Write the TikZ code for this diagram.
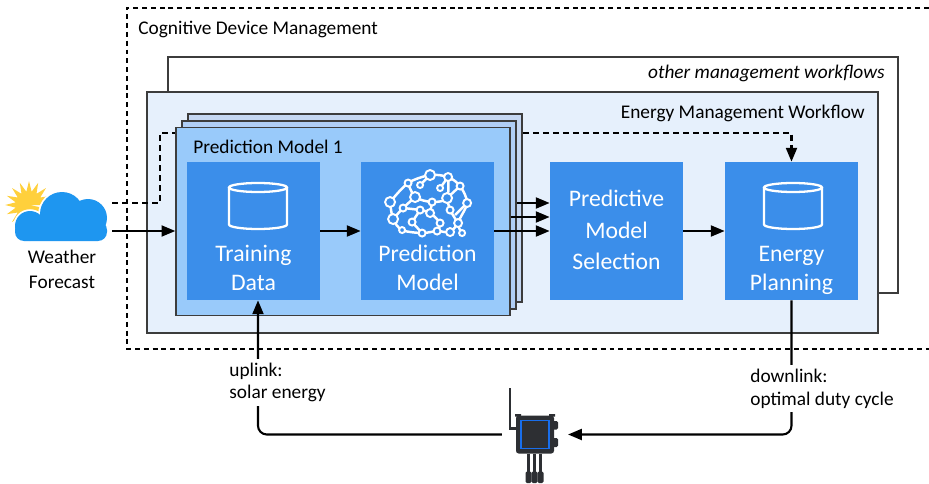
\documentclass[tikz,border=0pt]{standalone}
\usepackage{fontspec}
\setmainfont{Carlito}
\usepackage{xcolor}
\definecolor{boxBlue}{RGB}{59,142,234}
\definecolor{stackBlue}{RGB}{153,202,250}
\definecolor{stackMid}{RGB}{176,206,245}
\definecolor{stackBack}{RGB}{197,215,242}
\definecolor{wfBlue}{RGB}{230,240,252}
\definecolor{frameGray}{RGB}{60,60,60}
\definecolor{cloudBlue}{RGB}{30,150,240}
\definecolor{sunYellow}{RGB}{255,208,60}
\definecolor{devDark}{RGB}{45,47,51}
\definecolor{devBlue}{RGB}{25,110,235}
\usepackage{tikz}
\usetikzlibrary{arrows.meta}
\pgfdeclarelayer{bg}
\pgfdeclarelayer{fb}
\pgfsetlayers{bg,fb,main}

\begin{document}
\begin{tikzpicture}[
  frame/.style={rectangle, draw=frameGray, line width=0.8pt, inner sep=0},
  stackbox/.style={rectangle, draw=frameGray, line width=0.8pt, fill=stackBlue,
                   minimum width=6.68cm, minimum height=3.76cm},
  block/.style={rectangle, fill=boxBlue, minimum width=2.66cm, minimum height=2.76cm},
  blocktxt/.style={align=center, text=white, inner sep=0,
                   font=\fontsize{13.5}{16.5}\selectfont},
  title/.style={inner sep=0, font=\fontsize{11}{13}\selectfont},
  lnk/.style={fill=white, align=left, inner sep=2pt, font=\fontsize{11}{13}\selectfont},
  arr/.style={-{Triangle[length=7.8pt,width=6.2pt]}, line width=1.2pt},
  dasharr/.style={arr, dash pattern=on 3.4pt off 2.3pt},
  dbline/.style={draw=white, line width=1.3pt},
  dev/.style={rectangle, fill=devDark, rounded corners=1.5pt, minimum size=0.76cm,
              outer xsep=8pt}]

  \useasboundingbox (0,0) rectangle (18.58,9.66);

  % ── Containers ────────────────────────────────────────────────────
  \begin{pgfonlayer}{bg}
    \draw[line width=0.6pt, dash pattern=on 2.8pt off 2.2pt]
      (18.58,9.50) -- (2.54,9.50) -- (2.54,2.68) -- (18.58,2.68);
    \node[frame, fill=white, minimum width=14.60cm, minimum height=4.72cm] (others) at (10.66,6.16) {};
    \node[frame, fill=wfBlue, minimum width=14.62cm, minimum height=4.82cm] (energy) at (10.25,5.41) {};
  \end{pgfonlayer}
  \node[title, anchor=west] (cdmlbl) at (2.76,9.08) {Cognitive Device Management};
  \node[title, anchor=east] (otherlbl) at (17.70,8.20) {\itshape other management workflows};
  \node[title, anchor=east] (emwlbl) at (17.30,7.40) {Energy Management Workflow};

  % ── Stack of prediction models ────────────────────────────────────
  \node[stackbox, fill=stackBack] (stack3) at (7.10,5.50) {};
  \node[stackbox, fill=stackMid] (stack2) at (6.98,5.36) {};
  \node[stackbox] (stack) at (6.86,5.23) {};
  \node[title, anchor=west] (pm1) at (3.86,6.72) {Prediction Model 1};

  % ── Blocks ────────────────────────────────────────────────────────
  \node[block] (train) at (5.07,5.04) {};
  \node[block] (pred) at (8.55,5.04) {};
  \node[block] (sel) at (12.33,5.04) {};
  \node[block] (plan) at (15.83,5.04) {};
  \node[blocktxt] (traintxt) at (5.07,4.31) {Training\\Data};
  \node[blocktxt] (predtxt) at (8.55,4.31) {Prediction\\Model};
  \node[blocktxt, font=\fontsize{13.5}{18}\selectfont] (seltxt) at (12.33,5.06) {Predictive\\Model\\Selection};
  \node[blocktxt] (plantxt) at (15.83,4.25) {Energy\\Planning};

  % database icons
  \draw[dbline] (5.16,5.91) ellipse [x radius=0.58, y radius=0.09];
  \draw[dbline] (4.58,5.91) -- (4.58,5.17) arc[start angle=180, end angle=360, x radius=0.58, y radius=0.09] -- (5.74,5.91);
  \draw[dbline] (15.86,5.91) ellipse [x radius=0.58, y radius=0.09];
  \draw[dbline] (15.28,5.91) -- (15.28,5.17) arc[start angle=180, end angle=360, x radius=0.58, y radius=0.09] -- (16.44,5.91);

  % brain icon (pixel grid)
  \begin{scope}[shift={(0,9.66)}, x=0.02cm, y=-0.02cm, white, line width=1.4pt]
    \draw plot[smooth] coordinates {(390,202) (408,183) (430,175) (448,177) (460,186) (467,203) (458,223) (462,233)};
    \draw plot[smooth] coordinates {(390,202) (393,219) (402,230) (422,233) (437,231) (450,232) (458,223)};
    \draw plot[smooth] coordinates {(408,183) (415,197) (432,202) (447,198) (448,177)};
    \draw plot[smooth] coordinates {(403,208) (420,210) (430,213) (440,223) (437,231)};
    \draw plot[smooth] coordinates {(393,219) (403,208) (415,197)};
    \draw plot[smooth] coordinates {(447,198) (450,210) (458,223)};
    \draw plot[smooth] coordinates {(420,185) (430,175)};
    \draw (412,222) -- (420,210) (430,213) -- (432,202) (412,222) -- (422,233) (460,186) -- (447,198)
      (440,188) -- (448,177) (455,215) -- (467,203);
    \foreach \bx/\by/\br in {430/175/5, 390/202/5, 415/197/5, 447/198/5, 393/219/5,
        408/183/3.5, 448/177/4, 460/186/3.5, 467/203/4, 432/202/3.5, 403/208/3.5, 420/210/3.5,
        430/213/4, 450/210/3.5, 412/222/3.5, 440/223/3.5, 458/223/4, 402/230/3, 422/233/3.5,
        437/231/3.5, 450/232/4, 462/233/3, 420/185/3, 440/188/3}
      \draw[fill=boxBlue, line width=1.1pt] (\bx,\by) circle[radius=\br];
  \end{scope}

  % ── Weather forecast ──────────────────────────────────────────────
  \fill[sunYellow] (0.58,5.56) \foreach \a in {0,22.5,...,337.5} { -- +(\a:0.48) -- +(\a+11.25:0.27) } -- cycle;
  \draw[white, line width=2pt] (0.60,5.14) circle[radius=0.30] (1.24,5.38) circle[radius=0.44]
    (1.76,5.30) circle[radius=0.38] [rounded corners=0.18cm] (0.30,4.84) rectangle (2.14,5.24);
  \fill[cloudBlue] (0.60,5.14) circle[radius=0.30];
  \fill[cloudBlue] (1.24,5.38) circle[radius=0.44];
  \fill[cloudBlue] (1.76,5.30) circle[radius=0.38];
  \fill[cloudBlue, rounded corners=0.18cm] (0.30,4.84) rectangle (2.14,5.24);
  \node[minimum width=1.84cm, minimum height=1cm, inner sep=0, outer xsep=0.1cm] (cloud) at (1.22,5.33) {};
  \node[title, align=center, font=\fontsize{11}{14}\selectfont] (wflbl) at (1.24,4.27) {Weather\\Forecast};

  % ── Device ────────────────────────────────────────────────────────
  \draw[devDark, line width=1.5pt] (10.20,1.90) -- (10.20,1.09) -- (10.32,1.09);
  \node[dev] (device) at (10.70,0.97) {};
  \node[draw=devBlue, line width=1.1pt, minimum size=0.56cm, inner sep=0] (screen) at (device) {};
  \fill[devDark, rounded corners=0.8pt] (11.05,1.07) rectangle (11.16,1.24) (11.05,0.72) rectangle (11.16,0.90);
  \fill[devDark] (10.30,1.33) rectangle (10.42,1.38) (10.98,1.33) rectangle (11.10,1.38);
  \foreach \cx in {10.57,10.69,10.81} {
    \draw[devDark, line width=1.3pt] (\cx,0.59) -- (\cx,0.20);
    \fill[devDark, rounded corners=0.8pt] (\cx-0.06,0) rectangle (\cx+0.06,0.23);
  }

  % ── Arrows ────────────────────────────────────────────────────────
  \begin{pgfonlayer}{fb}
    \draw[dasharr] (cloud.east |- 0,5.60) -| (3.20,7.00) -| (plan.north);
  \end{pgfonlayer}
  \draw[arr] (cloud.east |- train) -- (stack.west |- train);
  \draw[arr] (train) -- (pred);
  \draw[arr] (stack2.east |- 0,5.60) -- (sel.west |- 0,5.60);
  \draw[arr] (stack.east |- 0,5.32) -- (sel.west |- 0,5.32);
  \draw[arr] (pred) -- (sel);
  \draw[arr] (sel) -- (plan);
  \draw[arr, rounded corners=5pt] (plan.south) |- (device.east);
  \draw[arr, rounded corners=5pt] (device.west) -| ([xshift=0.09cm]train.south);
  \node[lnk, anchor=west] (uplbl) at (4.51,2.01) {uplink:\\solar energy};
  \node[lnk, anchor=west] (dnlbl) at (14.93,1.89) {downlink:\\optimal duty cycle};

\end{tikzpicture}
\end{document}
